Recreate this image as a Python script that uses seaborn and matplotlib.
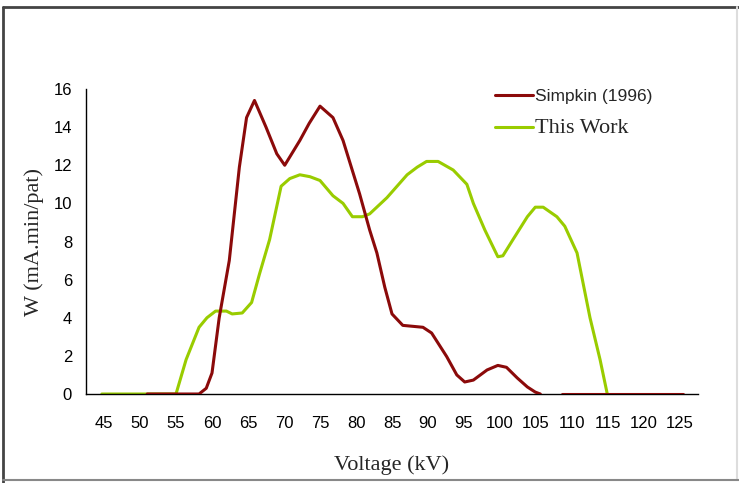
import numpy as np
import pandas as pd
import seaborn as sns
import matplotlib
matplotlib.use("Agg")
import matplotlib.pyplot as plt
from matplotlib.lines import Line2D

# ---- data ----
categories = [45, 50, 55, 60, 65, 70, 75, 80, 85, 90, 95, 100, 105, 110, 115, 120, 125]

simpkin_v = [51.0, 58.2, 59.2, 60.0, 61.0, 62.4, 63.8, 64.8, 65.9, 67.5, 69.0, 70.1,
             72.2, 73.5, 75.0, 76.8, 78.2, 80.5, 81.9, 82.9, 84.0, 85.0, 86.5, 89.3,
             90.5, 92.6, 94.0, 95.1, 96.3, 98.2, 99.7, 100.9, 102.4, 103.8, 104.9, 105.6]
simpkin_w = [0.0, 0.0, 0.3, 1.1, 4.0, 7.0, 11.9, 14.5, 15.4, 14.0, 12.6, 12.0,
             13.3, 14.2, 15.1, 14.5, 13.3, 10.5, 8.6, 7.4, 5.6, 4.2, 3.6, 3.5,
             3.2, 1.96, 1.0, 0.63, 0.73, 1.26, 1.5, 1.4, 0.84, 0.37, 0.1, 0.0]
simpkin_tail_v = [108.6, 125.4]
simpkin_tail_w = [0.0, 0.0]

work_v = [44.7, 55.0, 56.4, 58.2, 59.3, 60.5, 62.0, 62.8, 64.2, 65.5, 66.6, 68.0,
          69.6, 70.8, 72.2, 73.6, 75.0, 76.8, 78.2, 79.5, 80.9, 81.9, 84.3, 87.1,
          88.5, 89.8, 91.4, 93.5, 95.4, 96.3, 97.9, 99.7, 100.4, 101.8, 103.8, 104.9,
          106.0, 107.9, 109.0, 110.7, 112.5, 113.9, 114.9]
work_w = [0.0, 0.0, 1.8, 3.5, 4.0, 4.35, 4.35, 4.2, 4.25, 4.8, 6.3, 8.1,
          10.9, 11.3, 11.5, 11.4, 11.2, 10.4, 10.0, 9.3, 9.3, 9.45, 10.3, 11.5,
          11.9, 12.2, 12.2, 11.75, 11.0, 10.0, 8.6, 7.2, 7.25, 8.1, 9.3, 9.8,
          9.8, 9.3, 8.8, 7.4, 4.0, 1.8, 0.0]

series_names = ["Simpkin (1996)", "This Work"]
colors = ["#8B0A0A", "#99CC00"]

df = pd.concat([
    pd.DataFrame({"v": work_v, "w": work_w, "s": series_names[1], "u": 0}),
    pd.DataFrame({"v": simpkin_v, "w": simpkin_w, "s": series_names[0], "u": 1}),
    pd.DataFrame({"v": simpkin_tail_v, "w": simpkin_tail_w, "s": series_names[0], "u": 2}),
], ignore_index=True)

sns.set_style("white")
fig = plt.figure(figsize=(7.39, 4.83), dpi=100)
ax = fig.add_axes([86 / 739, 1 - 394 / 483, (698 - 86) / 739, (394 - 89) / 483])

LW = 2.2
for name, col, z in [(series_names[1], colors[1], 2), (series_names[0], colors[0], 3)]:
    sub = df[df["s"] == name]
    sns.lineplot(data=sub, x="v", y="w", units="u", estimator=None, sort=False,
                 color=col, linewidth=LW, ax=ax, zorder=z, legend=False)

ax.set_xlim(42.5, 127.5)
ax.set_ylim(0, 16)
ax.set_yticks(np.arange(0, 17, 2))
ax.set_xticks(np.arange(42.5, 128, 5))
ax.set_xticklabels([])
ax.set_xticks(categories, minor=True)
ax.set_xticklabels([str(c) for c in categories], minor=True)
ax.tick_params(axis="x", which="minor", length=0, pad=16)
ax.tick_params(axis="x", which="major", length=4, width=1, direction="out", color="black")
ax.tick_params(axis="y", length=5, width=1, direction="out", color="black", pad=5)
for lab in ax.get_xticklabels(minor=True) + ax.get_yticklabels():
    lab.set_fontfamily("Liberation Sans")
    lab.set_fontsize(12)
    lab.set_color("black")

for sp in ["top", "right"]:
    ax.spines[sp].set_visible(False)
for sp in ["left", "bottom"]:
    ax.spines[sp].set_color("black")
    ax.spines[sp].set_linewidth(1.0)

ax.set_xlabel("Voltage (kV)", fontfamily="Liberation Serif", fontsize=16, labelpad=17)
ax.set_ylabel("W (mA.min/pat)", fontfamily="Liberation Serif", fontsize=16, labelpad=7)

# legend
handles = [Line2D([0], [0], color=colors[0], lw=LW), Line2D([0], [0], color=colors[1], lw=LW)]
leg = ax.legend(handles, series_names, loc="upper left",
                bbox_to_anchor=(495 / 739, 1 - 89 / 483), bbox_transform=fig.transFigure,
                frameon=False, borderpad=0, borderaxespad=0, prop={"size": 12},
                handlelength=2.3, handletextpad=0.12, labelspacing=0.9)
texts = leg.get_texts()
texts[0].set_fontfamily("Liberation Sans")
texts[0].set_fontsize(12.5)
texts[1].set_fontfamily("Liberation Serif")
texts[1].set_fontsize(16)

# outer frame
def fl(x0, y0, x1, y1, c, w):
    fig.add_artist(Line2D([x0 / 739, x1 / 739], [1 - y0 / 483, 1 - y1 / 483],
                          transform=fig.transFigure, color=c, linewidth=w))
fl(3, 7, 739, 7, "#444444", 2.0)
fl(3, 7, 3, 483, "#444444", 2.0)
fl(737, 7, 737, 480, "#dddddd", 1.5)
fl(3, 480, 739, 480, "#888888", 1.5)

fig.savefig("out.png", dpi=100, facecolor="white")
